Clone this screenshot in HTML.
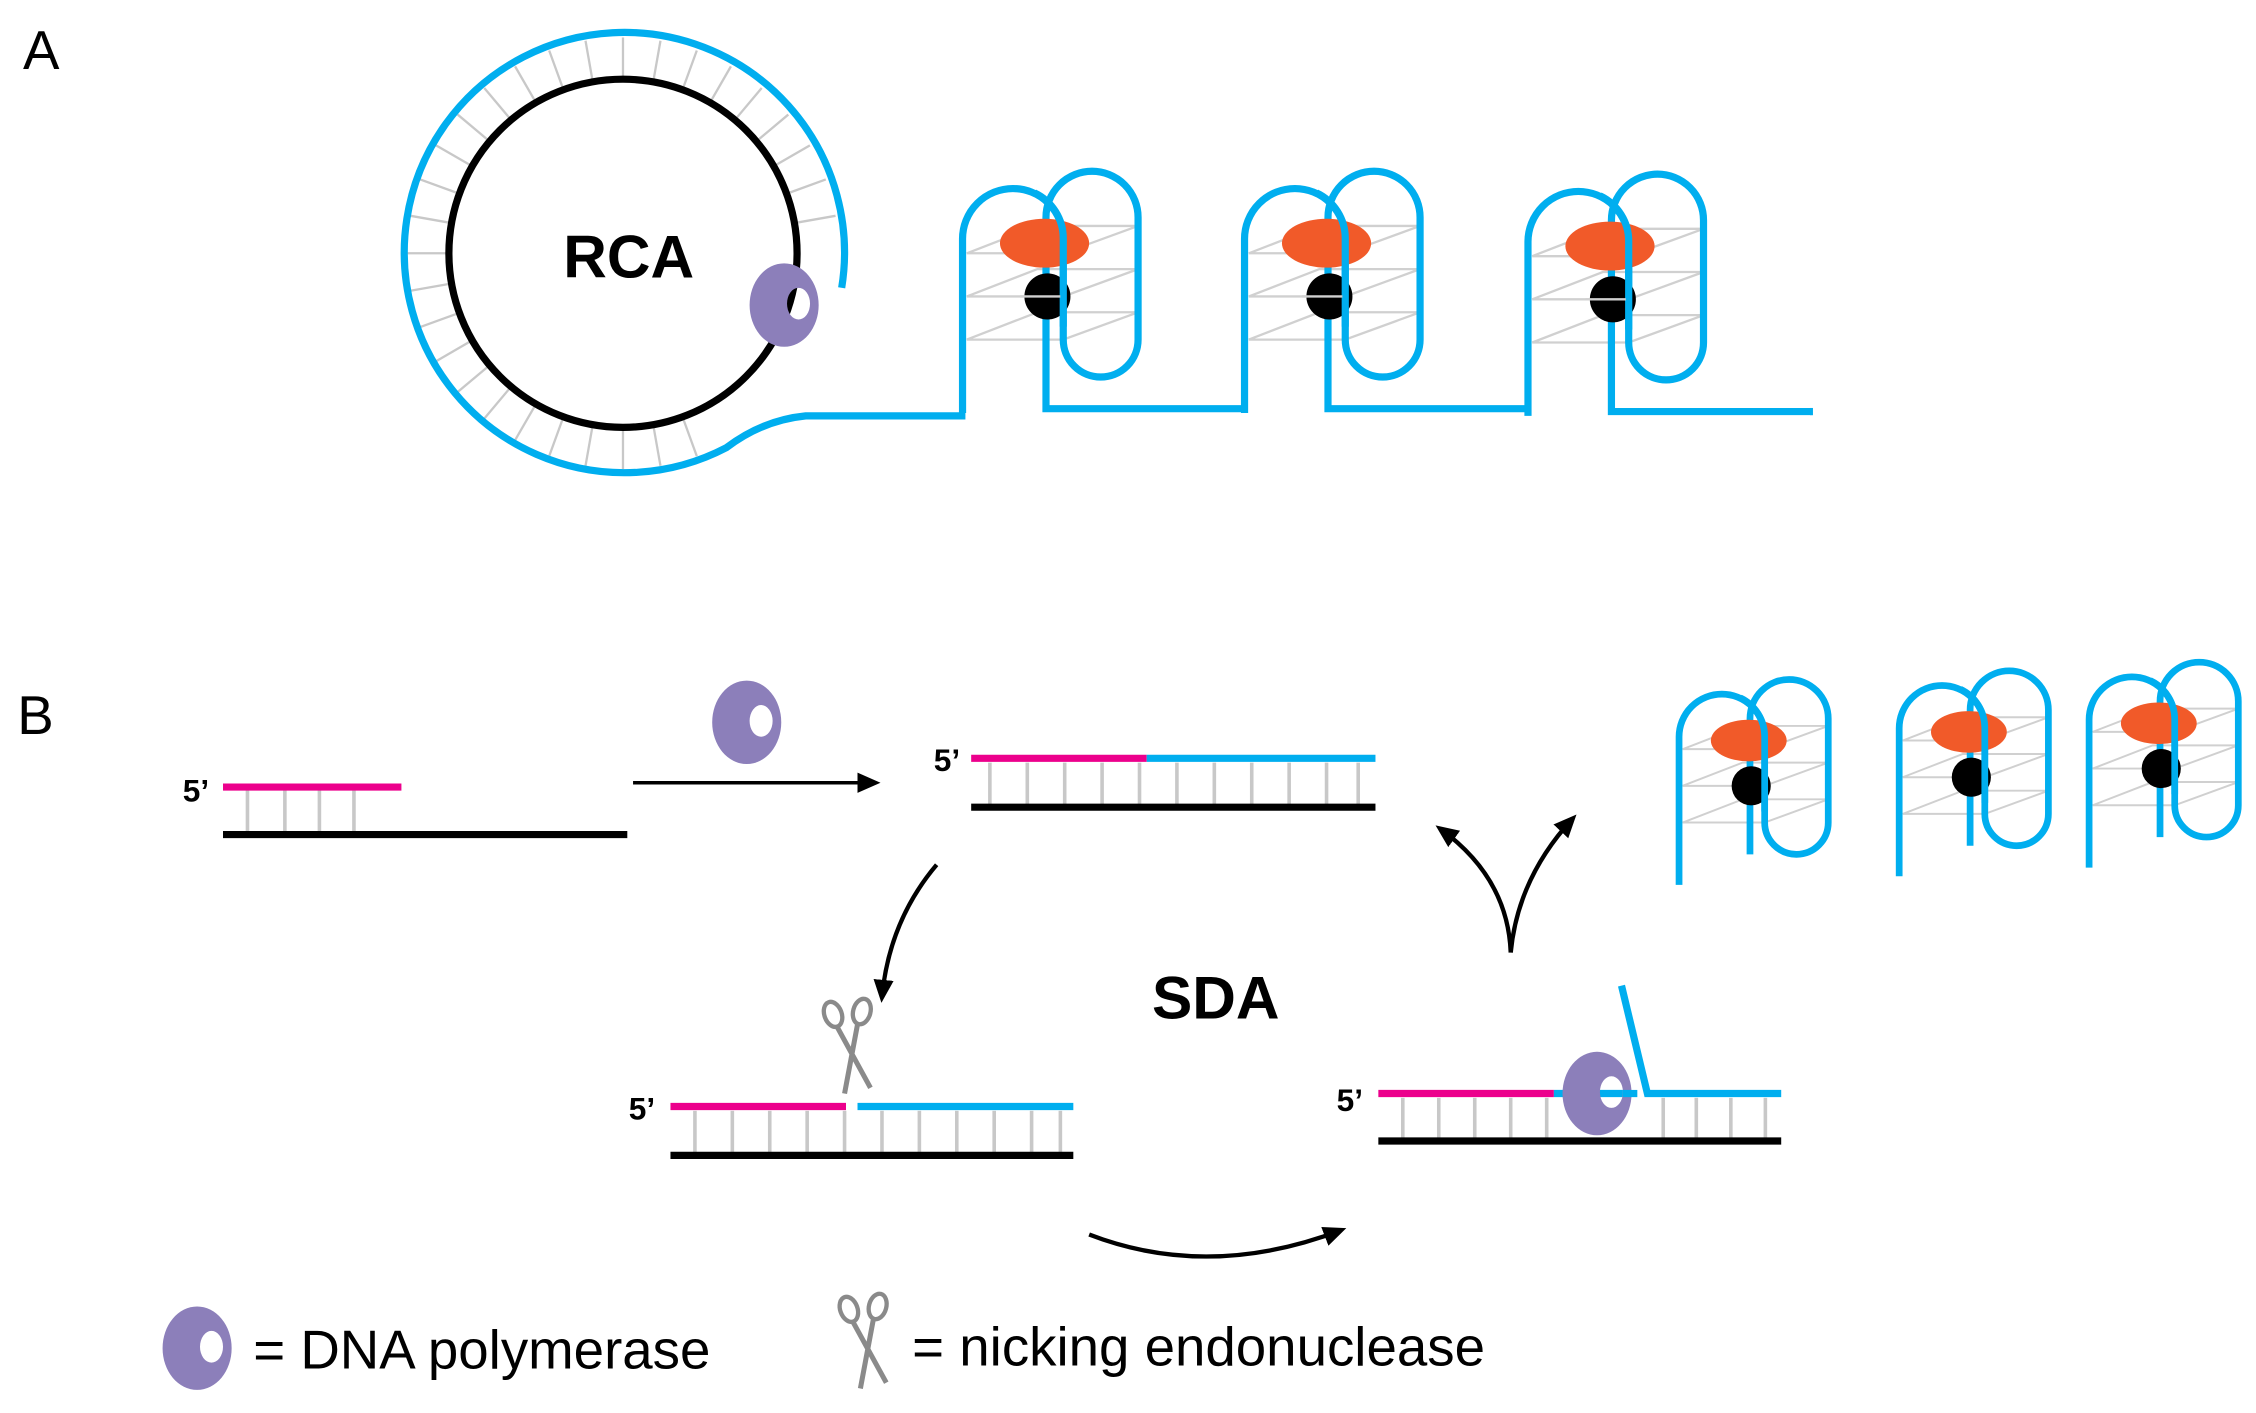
<!DOCTYPE html>
<html><head><meta charset="utf-8"><style>
html,body{margin:0;padding:0;background:#fff;}
svg{display:block;}
text{font-family:"Liberation Sans",sans-serif;}
</style></head><body>
<svg width="2256" height="1413" viewBox="0 0 1568 982" xmlns="http://www.w3.org/2000/svg">
<defs>
<g id="planes" stroke="#d0d0d0" stroke-width="1.6" fill="none">
  <path d="M3,-111 H70 L122,-130 H52 Z"/>
  <path d="M3,-81 H70 L122,-100 H52 Z"/>
  <path d="M3,-51 H70 L122,-70 H52 Z"/>
</g>
<g id="quad">
  <use href="#planes"/>
  <path d="M0,0 V-121 A35,35 0 0 1 70,-121 V-51 A26,26 0 0 0 122,-51 V-136 A29,29 0 0 0 58,-136 V-3 H198" fill="none" stroke="#00aeef" stroke-width="5" stroke-linejoin="miter"/>
  <ellipse cx="57" cy="-118" rx="31" ry="17" fill="#f15a29"/>
  <circle cx="59" cy="-81" r="16" fill="#000"/>
  <path d="M50,-153 A35,35 0 0 1 70,-121 V-60" fill="none" stroke="#00aeef" stroke-width="5"/>
  <line x1="40" y1="-81" x2="68" y2="-81" stroke="#d0d0d0" stroke-width="1.6"/>
</g>
<g id="quadB">
  <use href="#planes"/>
  <path d="M0,0 V-121 A35,35 0 0 1 70,-121 V-51 A26,26 0 0 0 122,-51 V-136 A29,29 0 0 0 58,-136 V-25" fill="none" stroke="#00aeef" stroke-width="5.5"/>
  <ellipse cx="57" cy="-118" rx="31" ry="17" fill="#f15a29"/>
  <circle cx="59" cy="-81" r="16" fill="#000"/>
  <path d="M50,-153 A35,35 0 0 1 70,-121 V-60" fill="none" stroke="#00aeef" stroke-width="5.5"/>
</g>
<g id="pol">
  <path fill-rule="evenodd" fill="#8c7fba" d="M-24,0 A24,29 0 1 0 24,0 A24,29 0 1 0 -24,0 Z M2,-1 A8,11 0 1 0 18,-1 A8,11 0 1 0 2,-1 Z"/>
</g>
<g id="sc" stroke="#8a8a8a" fill="none" stroke-width="3">
  <ellipse cx="-11" cy="-25" rx="6" ry="9" transform="rotate(-20 -11 -25)"/>
  <ellipse cx="9" cy="-27" rx="6" ry="9" transform="rotate(15 9 -27)"/>
  <path d="M-8,-16 L15,26 M6,-18 L-3,30" stroke-width="3.5"/>
</g>
<marker id="ah2" markerWidth="16" markerHeight="16" refX="12" refY="8" orient="auto" markerUnits="userSpaceOnUse" viewBox="0 0 16 16">
  <path d="M0,1 L16,8 L0,15 Z" fill="#000"/>
</marker>
</defs>

<text x="16" y="48" font-size="38">A</text>
<text x="12" y="510" font-size="38">B</text>

<g stroke="#c8c8c8" stroke-width="1.6">
  <line x1="555" y1="176" x2="583" y2="176" transform="rotate(-10 433 176)"/>
  <line x1="555" y1="176" x2="583" y2="176" transform="rotate(-20 433 176)"/>
  <line x1="555" y1="176" x2="583" y2="176" transform="rotate(-30 433 176)"/>
  <line x1="555" y1="176" x2="583" y2="176" transform="rotate(-40 433 176)"/>
  <line x1="555" y1="176" x2="583" y2="176" transform="rotate(-50 433 176)"/>
  <line x1="555" y1="176" x2="583" y2="176" transform="rotate(-60 433 176)"/>
  <line x1="555" y1="176" x2="583" y2="176" transform="rotate(-70 433 176)"/>
  <line x1="555" y1="176" x2="583" y2="176" transform="rotate(-80 433 176)"/>
  <line x1="555" y1="176" x2="583" y2="176" transform="rotate(-90 433 176)"/>
  <line x1="555" y1="176" x2="583" y2="176" transform="rotate(-100 433 176)"/>
  <line x1="555" y1="176" x2="583" y2="176" transform="rotate(-110 433 176)"/>
  <line x1="555" y1="176" x2="583" y2="176" transform="rotate(-120 433 176)"/>
  <line x1="555" y1="176" x2="583" y2="176" transform="rotate(-130 433 176)"/>
  <line x1="555" y1="176" x2="583" y2="176" transform="rotate(-140 433 176)"/>
  <line x1="555" y1="176" x2="583" y2="176" transform="rotate(-150 433 176)"/>
  <line x1="555" y1="176" x2="583" y2="176" transform="rotate(-160 433 176)"/>
  <line x1="555" y1="176" x2="583" y2="176" transform="rotate(-170 433 176)"/>
  <line x1="555" y1="176" x2="583" y2="176" transform="rotate(180 433 176)"/>
  <line x1="555" y1="176" x2="583" y2="176" transform="rotate(170 433 176)"/>
  <line x1="555" y1="176" x2="583" y2="176" transform="rotate(160 433 176)"/>
  <line x1="555" y1="176" x2="583" y2="176" transform="rotate(150 433 176)"/>
  <line x1="555" y1="176" x2="583" y2="176" transform="rotate(140 433 176)"/>
  <line x1="555" y1="176" x2="583" y2="176" transform="rotate(130 433 176)"/>
  <line x1="555" y1="176" x2="583" y2="176" transform="rotate(120 433 176)"/>
  <line x1="555" y1="176" x2="583" y2="176" transform="rotate(110 433 176)"/>
  <line x1="555" y1="176" x2="583" y2="176" transform="rotate(100 433 176)"/>
  <line x1="555" y1="176" x2="583" y2="176" transform="rotate(90 433 176)"/>
  <line x1="555" y1="176" x2="583" y2="176" transform="rotate(80 433 176)"/>
  <line x1="555" y1="176" x2="583" y2="176" transform="rotate(70 433 176)"/>
</g>
<circle cx="433" cy="176" r="121" fill="none" stroke="#000" stroke-width="5"/>
<path d="M585,200 A153,153 0 1 0 505,311 Q530,292 560,289 H671" fill="none" stroke="#00aeef" stroke-width="5"/>
<text x="437" y="193" font-size="42" font-weight="bold" text-anchor="middle">RCA</text>
<use href="#pol" x="545" y="212"/>

<use href="#quad" x="669" y="287"/>
<use href="#quad" x="865" y="287"/>
<use href="#quad" x="1062" y="289"/>
<path d="M1258,286 H1260" stroke="#00aeef" stroke-width="5"/>

<text x="127" y="557" font-size="22" font-weight="bold">5’</text>
<g stroke="#c8c8c8" stroke-width="2.5"><line x1="172" y1="549" x2="172" y2="578"/><line x1="198" y1="549" x2="198" y2="578"/><line x1="222" y1="549" x2="222" y2="578"/><line x1="246" y1="549" x2="246" y2="578"/></g>
<line x1="155" y1="547" x2="279" y2="547" stroke="#ec008c" stroke-width="5"/>
<line x1="155" y1="580" x2="436" y2="580" stroke="#000" stroke-width="5"/>
<line x1="440" y1="544" x2="608" y2="544" stroke="#000" stroke-width="2.5" marker-end="url(#ah2)"/>
<use href="#pol" x="519" y="502"/>

<text x="649" y="536" font-size="22" font-weight="bold">5’</text>
<g stroke="#c8c8c8" stroke-width="2.5">
<line x1="688" y1="530" x2="688" y2="559"/><line x1="714" y1="530" x2="714" y2="559"/><line x1="740" y1="530" x2="740" y2="559"/><line x1="766" y1="530" x2="766" y2="559"/><line x1="792" y1="530" x2="792" y2="559"/><line x1="818" y1="530" x2="818" y2="559"/><line x1="844" y1="530" x2="844" y2="559"/><line x1="870" y1="530" x2="870" y2="559"/><line x1="896" y1="530" x2="896" y2="559"/><line x1="922" y1="530" x2="922" y2="559"/><line x1="944" y1="530" x2="944" y2="559"/>
</g>
<line x1="675" y1="527" x2="797" y2="527" stroke="#ec008c" stroke-width="5"/>
<line x1="797" y1="527" x2="956" y2="527" stroke="#00aeef" stroke-width="5"/>
<line x1="675" y1="561" x2="956" y2="561" stroke="#000" stroke-width="5"/>

<path d="M651,601 Q618,640 613,693" fill="none" stroke="#000" stroke-width="3" marker-end="url(#ah2)"/>
<text x="845" y="708" font-size="42" font-weight="bold" text-anchor="middle">SDA</text>

<text x="437" y="778" font-size="22" font-weight="bold">5’</text>
<g stroke="#c8c8c8" stroke-width="2.5">
<line x1="483" y1="772" x2="483" y2="801"/><line x1="509" y1="772" x2="509" y2="801"/><line x1="535" y1="772" x2="535" y2="801"/><line x1="561" y1="772" x2="561" y2="801"/><line x1="587" y1="772" x2="587" y2="801"/><line x1="613" y1="772" x2="613" y2="801"/><line x1="639" y1="772" x2="639" y2="801"/><line x1="665" y1="772" x2="665" y2="801"/><line x1="691" y1="772" x2="691" y2="801"/><line x1="717" y1="772" x2="717" y2="801"/><line x1="737" y1="772" x2="737" y2="801"/>
</g>
<line x1="466" y1="769" x2="588" y2="769" stroke="#ec008c" stroke-width="5"/>
<line x1="596" y1="769" x2="746" y2="769" stroke="#00aeef" stroke-width="5"/>
<line x1="466" y1="803" x2="746" y2="803" stroke="#000" stroke-width="5"/>
<use href="#sc" x="590" y="730"/>

<path d="M757,858 Q840,890 932,855" fill="none" stroke="#000" stroke-width="3" marker-end="url(#ah2)"/>

<text x="929" y="772" font-size="22" font-weight="bold">5’</text>
<g stroke="#c8c8c8" stroke-width="2.5">
<line x1="975" y1="763" x2="975" y2="791"/><line x1="1000" y1="763" x2="1000" y2="791"/><line x1="1025" y1="763" x2="1025" y2="791"/><line x1="1050" y1="763" x2="1050" y2="791"/><line x1="1075" y1="763" x2="1075" y2="791"/><line x1="1156" y1="763" x2="1156" y2="791"/><line x1="1179" y1="763" x2="1179" y2="791"/><line x1="1203" y1="763" x2="1203" y2="791"/><line x1="1227" y1="763" x2="1227" y2="791"/>
</g>
<line x1="958" y1="760" x2="1080" y2="760" stroke="#ec008c" stroke-width="5"/>
<path d="M1080,760 H1128 M1127,685 L1145,760 H1238" fill="none" stroke="#00aeef" stroke-width="5"/>
<line x1="958" y1="793" x2="1238" y2="793" stroke="#000" stroke-width="5"/>
<use href="#pol" x="1110" y="760"/>
<path d="M1128,760 H1138" stroke="#00aeef" stroke-width="5"/>

<path d="M1050,662 Q1048,610 1001,576" fill="none" stroke="#000" stroke-width="3" marker-end="url(#ah2)"/>
<path d="M1050,662 Q1055,610 1093,569" fill="none" stroke="#000" stroke-width="3" marker-end="url(#ah2)"/>

<g transform="translate(1167,615) scale(0.85)"><use href="#quadB"/></g>
<g transform="translate(1320,609) scale(0.85)"><use href="#quadB"/></g>
<g transform="translate(1452,603) scale(0.85)"><use href="#quadB"/></g>

<use href="#pol" x="137" y="937"/>
<text x="176" y="951" font-size="38">= DNA polymerase</text>
<use href="#sc" x="601" y="935"/>
<text x="634" y="949" font-size="38">= nicking endonuclease</text>
</svg>
</body></html>
